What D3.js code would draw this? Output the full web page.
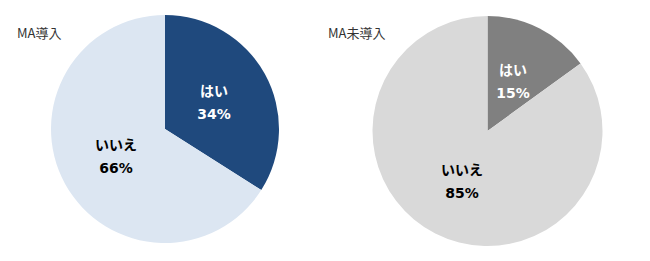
<!DOCTYPE html>
<html><head><meta charset="utf-8">
<script src="https://cdn.jsdelivr.net/npm/d3@7"></script>
<style>body{margin:0;background:#fff;}svg{display:block;font-family:"Noto Sans CJK JP","Noto Sans",sans-serif;}</style>
</head><body>
<svg id="c" width="650" height="261"></svg>
<script>
const categories = ["はい", "いいえ"];
const titles = ["MA導入", "MA未導入"];
const valuesIntroduced = [34, 66];
const valuesNotIntroduced = [15, 85];

const charts = [
  {title: titles[0], values: valuesIntroduced, cx: 165, cy: 129, r: 114, tx: 17, colors: ["#1F497D", "#DCE6F2"], text: ["#ffffff", "#000000"]},
  {title: titles[1], values: valuesNotIntroduced, cx: 487.5, cy: 131, r: 115, tx: 328, colors: ["#808080", "#D9D9D9"], text: ["#ffffff", "#000000"]}
];

const svg = d3.select("#c");
const pie = d3.pie().sort(null).value(d => d.v);

charts.forEach(ch => {
  const data = categories.map((c, i) => ({c, v: ch.values[i], i}));
  const arcs = pie(data);
  const arc = d3.arc().innerRadius(0).outerRadius(ch.r);
  const labelArc = d3.arc().innerRadius(ch.r * 0.98).outerRadius(0);
  const g = svg.append("g").attr("transform", `translate(${ch.cx},${ch.cy})`);
  g.selectAll("path").data(arcs).join("path")
    .attr("d", arc)
    .attr("fill", d => ch.colors[d.data.i]);
  const lab = g.selectAll("text").data(arcs).join("text")
    .attr("transform", d => { const [x, y] = labelArc.centroid(d); return `translate(${x},${y})`; })
    .attr("text-anchor", "middle")
    .attr("font-weight", "bold")
    .attr("font-size", 14)
    .attr("fill", d => ch.text[d.data.i]);
  lab.append("tspan").attr("x", 0).attr("y", -6).text(d => d.data.c);
  lab.append("tspan").attr("x", 0).attr("y", 17)
    .attr("font-family", "'DejaVu Sans', Verdana, sans-serif")
    .text(d => d.data.v + "%");
  svg.append("text").attr("x", ch.tx).attr("y", 38)
    .attr("font-size", 13).attr("fill", "#333").text(ch.title);
});
</script>
</body></html>
